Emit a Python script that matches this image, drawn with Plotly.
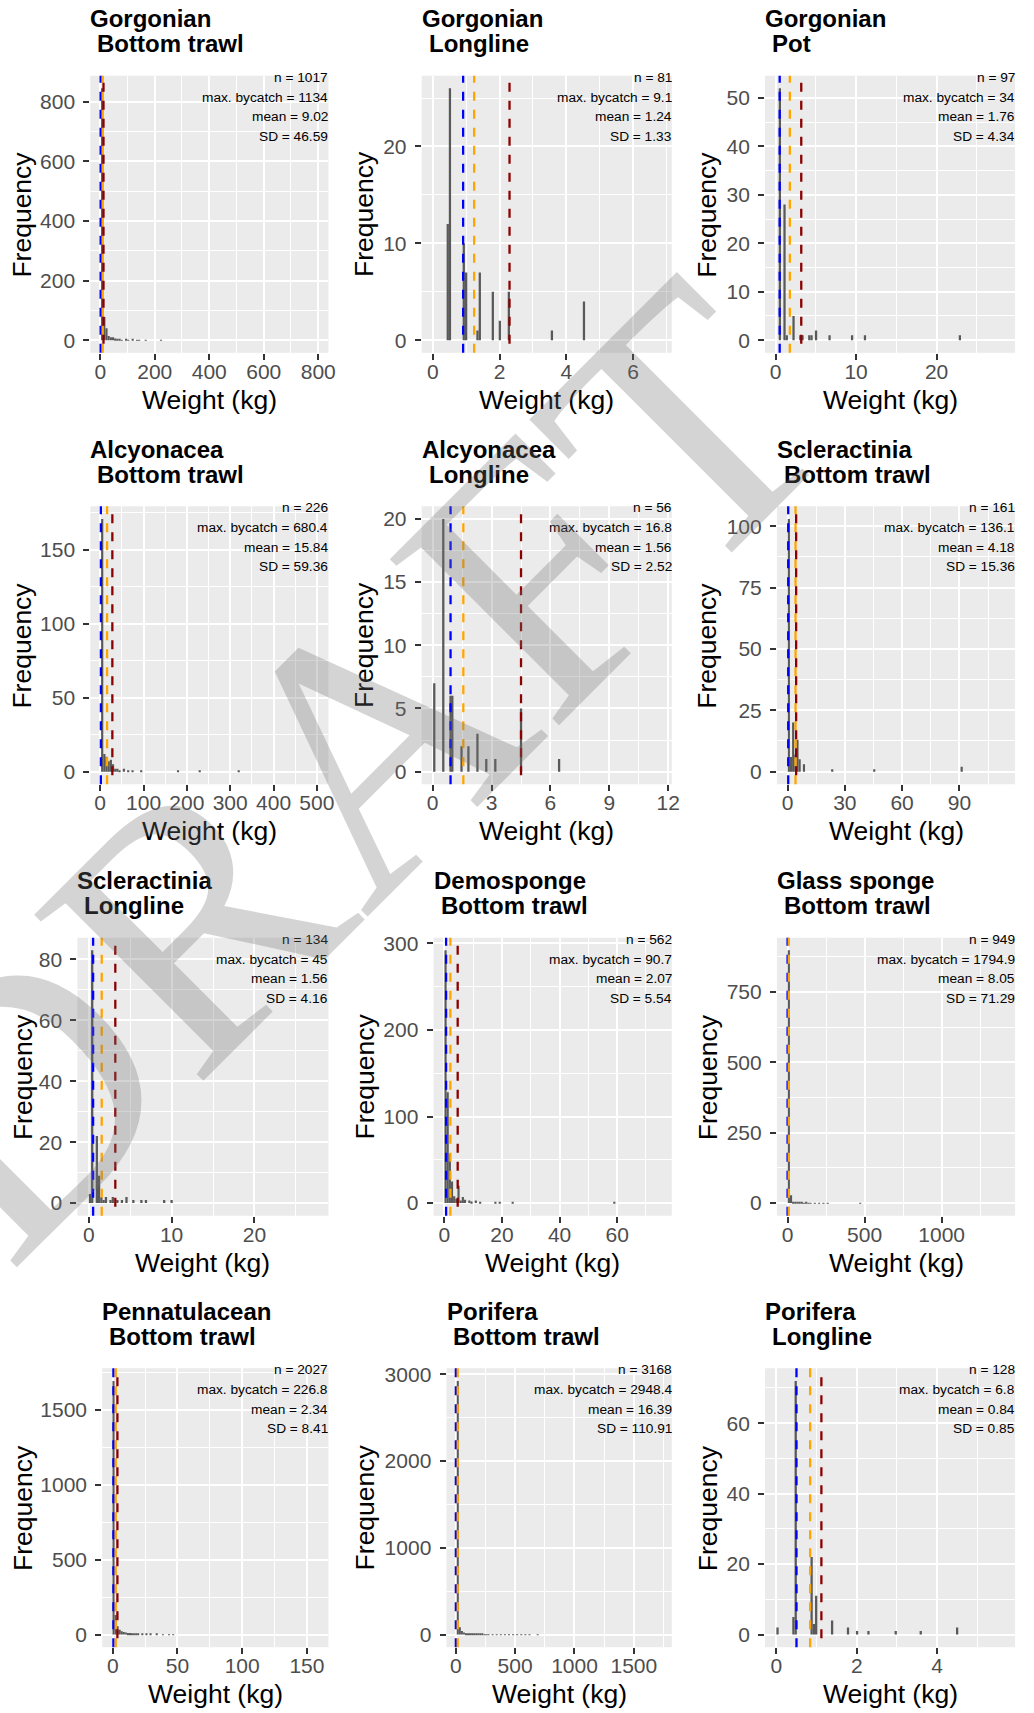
import plotly.graph_objects as go

# ---------------- data ----------------
panel_group = ["Gorgonian", "Gorgonian", "Gorgonian", "Alcyonacea", "Alcyonacea", "Scleractinia",
               "Scleractinia", "Demosponge", "Glass sponge", "Pennatulacean", "Porifera", "Porifera"]
panel_gear = ["Bottom trawl", "Longline", "Pot", "Bottom trawl", "Longline", "Bottom trawl",
              "Longline", "Bottom trawl", "Bottom trawl", "Bottom trawl", "Bottom trawl", "Longline"]

stat_n = ["1017", "81", "97", "226", "56", "161", "134", "562", "949", "2027", "3168", "128"]
stat_max = ["1134", "9.1", "34", "680.4", "16.8", "136.1", "45", "90.7", "1794.9", "226.8", "2948.4", "6.8"]
stat_mean = ["9.02", "1.24", "1.76", "15.84", "1.56", "4.18", "1.56", "2.07", "8.05", "2.34", "16.39", "0.84"]
stat_sd = ["46.59", "1.33", "4.34", "59.36", "2.52", "15.36", "4.16", "5.54", "71.29", "8.41", "110.91", "0.85"]

line_median = [1.5, 0.91, 0.5, 1.5, 0.91, 0.35, 0.52, 0.57, 0.3, 0.5, 1.0, 0.5]
line_mean = [9.02, 1.24, 1.76, 15.84, 1.56, 4.18, 1.56, 2.07, 8.05, 2.34, 16.39, 0.84]
line_upper = [12, 2.30, 3.18, 28, 4.5, 4.5, 3.2, 4.6, None, 3.6, None, 1.12]

x_limits = [(3.3, 797.8), (0.01, 6.82), (0.09, 28.35), (2.1, 501.7), (0.02, 11.6), (0.11, 113.5),
            (0.0, 27.56), (0.0, 75.2), (1.5, 1406), (-0.2, 158.7), (8.4, 1733), (0.0, 5.66)]
bin_width = [7.9, 0.068, 0.28, 5.0, 0.116, 1.13, 0.276, 0.752, 14.04, 1.589, 17.25, 0.0566]
x_breaks = [200, 2, 10, 100, 3, 30, 10, 20, 500, 50, 500, 2]
y_breaks = [200, 10, 10, 50, 5, 25, 20, 100, 250, 500, 1000, 20]

gorg_bt_x = [7, 15, 23, 31, 39, 47, 55, 63, 71, 79, 95, 103, 119, 135, 143, 167, 223]
gorg_bt_n = [845, 78, 40, 14, 10, 10, 6, 2, 2, 1, 2, 1, 2, 1, 1, 1, 1]
gorg_ll_x = [0.45, 0.515, 0.93, 1.0, 1.34, 1.41, 1.80, 2.01, 2.28, 3.57, 4.53]
gorg_ll_n = [12, 26, 10, 7, 1, 7, 5, 2, 5, 1, 4]
gorg_pot_x = [0.52, 1.1, 1.38, 2.22, 3.06, 3.34, 4.18, 4.46, 5.02, 6.7, 9.5, 11.1, 22.9]
gorg_pot_n = [52, 28, 1, 5, 1, 1, 1, 1, 2, 1, 1, 1, 1]
alcy_bt_x = [4.6, 9.6, 14.6, 19.6, 24.6, 29.6, 34.6, 39.6, 44.6, 54.6, 64.6, 74.6, 94.6, 179.6, 229.6, 319.6]
alcy_bt_n = [171, 12, 10, 7, 8, 5, 2, 2, 1, 2, 1, 1, 1, 1, 1, 1]
alcy_ll_x = [0.08, 0.54, 0.91, 1.0, 1.47, 1.82, 2.28, 2.73, 3.19, 4.5, 6.44]
alcy_ll_n = [7, 20, 6, 6, 2, 2, 3, 1, 1, 5, 1]
scle_bt_x = [0.68, 1.81, 2.94, 4.07, 5.2, 6.33, 8.59, 23.4, 45.4, 91.2]
scle_bt_n = [103, 6, 20, 7, 13, 5, 3, 1, 1, 2]
scle_ll_x = [0.14, 0.41, 0.97, 1.24, 1.52, 1.79, 2.07, 2.62, 2.9, 3.45, 4.0, 4.55, 5.38, 6.35, 6.9, 9.1, 10.0]
scle_ll_n = [3, 83, 22, 9, 2, 1, 2, 1, 2, 1, 1, 2, 1, 1, 1, 1, 1]
demo_bt_x = [0.38, 1.13, 1.88, 2.63, 3.38, 4.14, 4.89, 5.64, 6.39, 7.14, 8.65, 9.4, 10.9, 12.4, 17.7, 19.2, 23.7, 59.0]
demo_bt_n = [292, 128, 57, 25, 8, 5, 20, 3, 7, 4, 3, 2, 3, 1, 1, 1, 1, 1]
glas_bt_x = [8.5, 22.6, 36.6, 50.7, 64.7, 78.7, 92.8, 106.8, 120.9, 134.9, 148.9, 177, 205, 233, 261, 471.8]
glas_bt_n = [897, 28, 5, 3, 2, 2, 2, 1, 2, 1, 1, 1, 1, 1, 1, 1]
penn_bt_x = [0.59, 2.18, 3.77, 5.36, 6.95, 8.54, 10.13, 11.72, 13.31, 14.9, 16.49, 18.08, 19.67, 22.85,
             26.03, 29.2, 33.97, 38.74, 43.5, 46.7]
penn_bt_n = [1693, 130, 55, 32, 22, 17, 14, 11, 10, 8, 6, 5, 5, 4, 4, 3, 3, 2, 2, 1]
pori_bt_x = [17.0, 34.3, 51.5, 68.8, 86.0, 103.3, 120.5, 137.8, 155, 172.3, 189.5, 206.8, 224, 241.3, 258.5,
             275.8, 310.3, 344.8, 379.3, 413.8, 448.3, 482.8, 517.3, 551.8, 586.3, 620.8, 689.8]
pori_bt_n = [2923, 85, 40, 25, 15, 12, 10, 8, 6, 5, 5, 4, 4, 3, 3, 3, 3, 2, 2, 2, 1, 2, 1, 1, 1, 1, 1]
pori_ll_x = [0.028, 0.424, 0.481, 0.877, 0.934, 0.990, 1.387, 1.783, 2.009, 2.292, 2.971, 3.594, 4.50]
pori_ll_n = [2, 5, 72, 22, 3, 11, 4, 2, 1, 1, 1, 1, 2]

bins_x = [gorg_bt_x, gorg_ll_x, gorg_pot_x, alcy_bt_x, alcy_ll_x, scle_bt_x,
          scle_ll_x, demo_bt_x, glas_bt_x, penn_bt_x, pori_bt_x, pori_ll_x]
bins_n = [gorg_bt_n, gorg_ll_n, gorg_pot_n, alcy_bt_n, alcy_ll_n, scle_bt_n,
          scle_ll_n, demo_bt_n, glas_bt_n, penn_bt_n, pori_bt_n, pori_ll_n]

# ---------------- layout (pixel boxes of panels) ----------------
W, H = 1034, 1713
panel_box = [
    (91, 331, 70, 348), (425, 677, 70, 348), (771, 1023, 70, 348),
    (91, 331, 502, 781), (425, 677, 502, 781), (783, 1023, 502, 781),
    (78, 331, 935, 1214), (437, 677, 935, 1214), (783, 1023, 935, 1214),
    (103, 331, 1367, 1647), (450, 677, 1367, 1647), (771, 1023, 1367, 1647),
]
freq_x = [22.5, 367.5, 713]

FONT = "Liberation Sans, Arial, sans-serif"


def fx(px):
    return px / W


def fy(py):
    return 1 - py / H


fig = go.Figure()
shapes = []
annotations = []

for i in range(12):
    k = i + 1
    sx = "" if k == 1 else str(k)
    xa, ya = "x" + sx, "y" + sx
    xl, xr, yt, yb = panel_box[i]

    fig.add_trace(go.Bar(
        x=bins_x[i], y=bins_n[i], width=bin_width[i],
        marker=dict(color="#595959", line=dict(width=0)),
        xaxis=xa, yaxis=ya, showlegend=False, hoverinfo="skip"))

    lo, hi = x_limits[i]
    span = hi - lo
    xrange = [lo - 0.05 * span, hi + 0.05 * span]
    ymax = max(bins_n[i])
    yrange = [-0.05 * ymax, 1.05 * ymax]

    common = dict(
        showgrid=True, gridcolor="white", gridwidth=2,
        zeroline=False, showline=False,
        ticks="outside", ticklen=6, tickwidth=1.6, tickcolor="#333333",
        tickfont=dict(family=FONT, size=21, color="#4D4D4D"),
        tick0=0,
    )
    fig.layout["xaxis" + sx] = dict(
        common, domain=[fx(xl), fx(xr)], anchor=ya, range=xrange, dtick=x_breaks[i],
        ticklabelstandoff=-6,
        minor=dict(dtick=x_breaks[i] / 2, tick0=0, showgrid=True, gridcolor="white", gridwidth=1, ticks=""))
    fig.layout["yaxis" + sx] = dict(
        common, domain=[fy(yb), fy(yt)], anchor=xa, range=yrange, dtick=y_breaks[i],
        ticklabelstandoff=4,
        minor=dict(dtick=y_breaks[i] / 2, tick0=0, showgrid=True, gridcolor="white", gridwidth=1, ticks=""))

    # reference lines
    for val, col, dash in [(line_median[i], "#0000FF", "9px,9px"),
                           (line_mean[i], "#FFA500", "9px,9px"),
                           (line_upper[i], "#8B0000", "0px,9px,9px,0px")]:
        if val is None:
            continue
        shapes.append(dict(type="line", xref=xa, yref=ya + " domain", x0=val, x1=val, y0=0, y1=1,
                           line=dict(color=col, width=2.3, dash=dash)))

    # titles
    annotations.append(dict(text="<b>%s</b>" % panel_group[i], x=fx(xl), y=fy(yt - 57), xref="paper", yref="paper",
                            xanchor="left", yanchor="middle", showarrow=False, xshift=-2,
                            font=dict(family=FONT, size=24, color="black")))
    annotations.append(dict(text="<b>%s</b>" % panel_gear[i], x=fx(xl + 7), y=fy(yt - 32), xref="paper", yref="paper",
                            xanchor="left", yanchor="middle", showarrow=False, xshift=-2,
                            font=dict(family=FONT, size=24, color="black")))
    # stats
    stat_lines = ["n = " + stat_n[i], "max. bycatch = " + stat_max[i],
                  "mean = " + stat_mean[i], "SD = " + stat_sd[i]]
    for j, s in enumerate(stat_lines):
        annotations.append(dict(text=s, x=fx(xr), y=fy(yt + 1.7 + 19.7 * j), xref="paper", yref="paper",
                                xanchor="right", yanchor="middle", showarrow=False, xshift=2,
                                font=dict(family=FONT, size=13.7, color="black")))
    # axis titles
    annotations.append(dict(text="Frequency", x=fx(freq_x[i % 3]), y=fy((yt + yb) / 2), xref="paper", yref="paper",
                            xanchor="center", yanchor="middle", showarrow=False, textangle=-90,
                            font=dict(family=FONT, size=26.5, color="black")))
    annotations.append(dict(text="Weight (kg)", x=fx((xl + xr) / 2), y=fy(yb + 47), xref="paper", yref="paper",
                            xanchor="center", yanchor="middle", showarrow=False,
                            font=dict(family=FONT, size=26.5, color="black")))

# watermark
annotations.append(dict(text="DRAFT", x=fx(345), y=fy(765), xref="paper", yref="paper",
                        xanchor="center", yanchor="middle", showarrow=False, textangle=-45,
                        font=dict(family="Liberation Serif, Times New Roman, serif", size=362,
                                  color="rgba(112,112,112,0.3)")))

fig.update_layout(
    width=W, height=H, autosize=False,
    margin=dict(l=0, r=0, t=0, b=0, pad=0),
    paper_bgcolor="white", plot_bgcolor="#EBEBEB",
    barmode="overlay", shapes=shapes, annotations=annotations,
    font=dict(family=FONT),
)

fig.write_html("out.html", config={"displayModeBar": False})
